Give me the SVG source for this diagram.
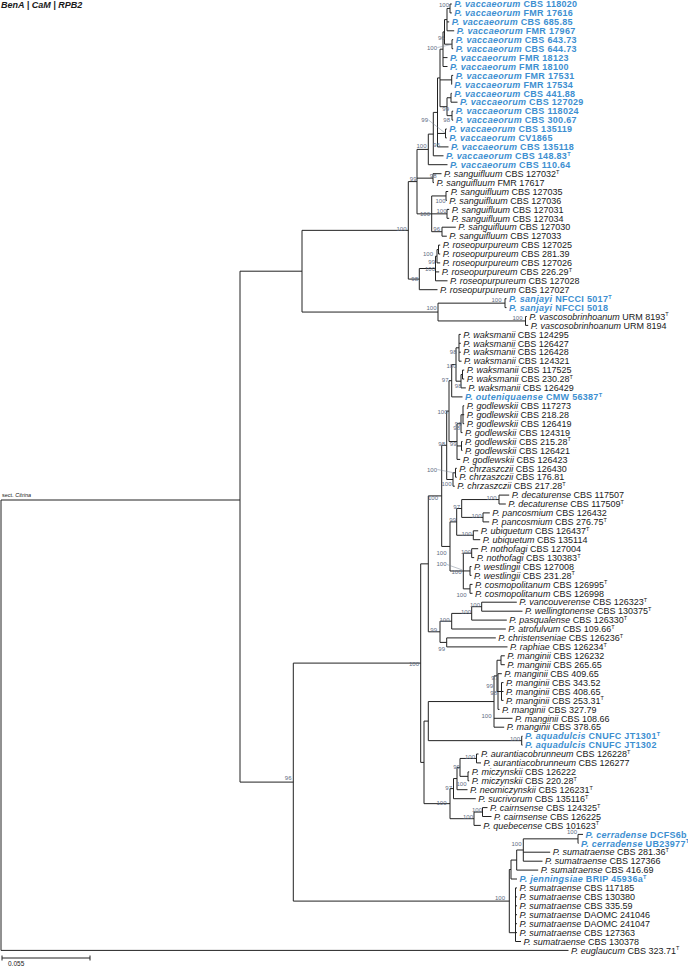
<svg xmlns="http://www.w3.org/2000/svg" width="688" height="967" viewBox="0 0 688 967">
<style>
.br{fill:none;stroke:#222;stroke-width:1}
.lf{font-family:"Liberation Sans",Arial,sans-serif;font-size:9px;fill:#1a1a1a}
.nw{font-weight:bold;fill:#3d8fd1;letter-spacing:0.3px}
.i{font-style:italic}
.s{font-size:5.5px;letter-spacing:0}
.bs{font-family:"Liberation Sans",Arial,sans-serif;font-size:6px;fill:#5d6b82;text-anchor:end}
.ld{stroke:#7a8494;stroke-width:0.5;fill:none}
</style>
<rect width="688" height="967" fill="#fff"/>
<text x="1" y="7.5" font-family="Liberation Sans,Arial,sans-serif" font-size="9" font-weight="bold" font-style="italic" fill="#1a1a1a">BenA | CaM | RPB2</text>
<g id="connectors" class="br">
<path d="M450 4V12.9M450 4H451.8M450 12.9H451.8"/>
<path d="M447 8.45V30.8M447 8.45H450M447 21.9H449.2M447 30.8H454.2"/>
<path d="M452 39.7V48.7M452 39.7H453.2M452 48.7H453.2"/>
<path d="M444.5 19.6V44.2M444.5 19.6H447M444.5 44.2H452"/>
<path d="M443 31.9V66.5M443 31.9H444.5M443 57.6H447.5M443 66.5H447.5"/>
<path d="M451.7 75.4V84.4M451.7 75.4H453.2M451.7 84.4H452"/>
<path d="M451 93.3V102.2M451 93.3H451.8M451 102.2H457.5"/>
<path d="M452 111.2V120.1M452 111.2H453.2M452 120.1H453.2"/>
<path d="M447 97.75V115.65M447 97.75H451M447 115.65H452"/>
<path d="M445.5 129V137.9M445.5 129H446.8M445.5 137.9H446.8"/>
<path d="M440 49.2V106.7M440 49.2H443M440 79.9H451.7M440 106.7H447"/>
<path d="M437.5 77.95V146.9M437.5 77.95H440M437.5 133.45H445.5M437.5 146.9H448.5"/>
<path d="M433.3 112.4V155.8M433.3 112.4H437.5M433.3 155.8H443.5"/>
<path d="M428.3 134.1V164.7M428.3 134.1H433.3M428.3 164.7H447.5"/>
<path d="M433 173.7V182.6M433 173.7H441.5M433 182.6H434"/>
<path d="M446 191.5V200.4M446 191.5H448.2M446 200.4H446.8"/>
<path d="M447 209.4V218.3M447 209.4H449.2M447 218.3H449.2"/>
<path d="M442 227.2V236.2M442 227.2H455.8M442 236.2H446.8"/>
<path d="M431.7 195.95V231.7M431.7 195.95H446M431.7 213.85H447M431.7 231.7H442"/>
<path d="M417 149.4V213.85M417 149.4H428.3M417 178.15H433M417 213.85H431.7"/>
<path d="M438.5 245.1V254M438.5 245.1H440.2M438.5 254H440.2"/>
<path d="M437 249.55V262.9M437 249.55H438.5M437 262.9H440.2"/>
<path d="M435.5 256.2V280.8M435.5 256.2H437M435.5 271.9H439.2M435.5 280.8H447.5"/>
<path d="M419.3 268.5V289.7M419.3 268.5H435.5M419.3 289.7H437.5"/>
<path d="M408.3 181.6V279.1M408.3 181.6H417M408.3 279.1H419.3"/>
<path d="M505 298.7V307.6M505 298.7H506.5M505 307.6H506.5"/>
<path d="M525.5 316.5V325.4M525.5 316.5H526.8M525.5 325.4H528.2"/>
<path d="M438 303.15V320.95M438 303.15H505M438 320.95H525.5"/>
<path d="M302 230.35V312.05M302 230.35H408.3M302 312.05H438"/>
<path d="M459 334.4V361.2M459 334.4H460.8M459 343.3H460.8M459 352.2H460.8M459 361.2H461.5"/>
<path d="M462.5 370.1V379M462.5 370.1H464.2M462.5 379H464.2"/>
<path d="M461 374.55V387.9M461 374.55H462.5M461 387.9H465.8"/>
<path d="M456 347.8V381.2M456 347.8H459M456 381.2H461"/>
<path d="M451.7 364.5V396.9M451.7 364.5H456M451.7 396.9H462.5"/>
<path d="M463 405.8V423.7M463 405.8H464.2M463 414.7H464.2M463 423.7H464.2"/>
<path d="M461 414.75V432.6M461 414.75H463M461 432.6H462.5"/>
<path d="M461.5 441.5V450.4M461.5 441.5H462.5M461.5 450.4H462.5"/>
<path d="M457 423.7V459.4M457 423.7H461M457 445.95H461.5M457 459.4H460.2"/>
<path d="M449 380.7V441.55M449 380.7H451.7M449 441.55H457"/>
<path d="M455.5 468.3V477.2M455.5 468.3H456.8M455.5 477.2H456.8"/>
<path d="M453 472.75V486.2M453 472.75H455.5M453 486.2H454.8"/>
<path d="M446.7 411.1V479.5M446.7 411.1H449M446.7 479.5H453"/>
<path d="M499 495.1V504M499 495.1H509.2M499 504H505.8"/>
<path d="M483 512.9V521.9M483 512.9H489.8M483 521.9H489.2"/>
<path d="M461.7 499.55V517.4M461.7 499.55H499M461.7 517.4H483"/>
<path d="M473.3 530.8V539.7M473.3 530.8H478.2M473.3 539.7H480.2"/>
<path d="M456.7 508.5V535.25M456.7 508.5H461.7M456.7 535.25H473.3"/>
<path d="M471.7 548.7V557.6M471.7 548.7H478.2M471.7 557.6H474.2"/>
<path d="M470 566.5V575.4M470 566.5H471.5M470 575.4H471.5"/>
<path d="M470 584.4V593.3M470 584.4H472.5M470 593.3H472.5"/>
<path d="M463.3 553.15V588.85M463.3 553.15H471.7M463.3 570.95H470M463.3 588.85H470"/>
<path d="M450 521.9V571M450 521.9H456.7M450 571H463.3"/>
<path d="M441.7 445.3V546.45M441.7 445.3H446.7M441.7 546.45H450"/>
<path d="M481.7 602.2V611.2M481.7 602.2H516.8M481.7 611.2H522.5"/>
<path d="M471.7 606.7V620.1M471.7 606.7H481.7M471.7 620.1H506.8"/>
<path d="M451.7 613.4V629M451.7 613.4H471.7M451.7 629H505.8"/>
<path d="M446.7 637.9V646.9M446.7 637.9H495.8M446.7 646.9H507.5"/>
<path d="M440 621.2V642.4M440 621.2H451.7M440 642.4H446.7"/>
<path d="M428.3 495.9V631.8M428.3 495.9H441.7M428.3 631.8H440"/>
<path d="M501 655.8V664.7M501 655.8H504.8M501 664.7H504.8"/>
<path d="M501.5 682.6V700.4M501.5 682.6H503.5M501.5 691.5H503.5M501.5 700.4H503.5"/>
<path d="M498 673.7V709.4M498 673.7H501.8M498 691.5H501.5M498 709.4H499.5"/>
<path d="M497 660.25V691.55M497 660.25H501M497 691.55H498"/>
<path d="M494 675.9V727.2M494 675.9H497M494 718.3H512.5M494 727.2H504.2"/>
<path d="M521.7 736.2V745.1M521.7 736.2H522.5M521.7 745.1H522.5"/>
<path d="M428.3 701.55V740.65M428.3 701.55H494M428.3 740.65H521.7"/>
<path d="M476.5 754V762.9M476.5 754H478.5M476.5 762.9H481"/>
<path d="M468 771.9V780.8M468 771.9H469.2M468 780.8H469.2"/>
<path d="M460 758.45V776.35M460 758.45H476.5M460 776.35H468"/>
<path d="M457 767.4V789.7M457 767.4H460M457 789.7H467.5"/>
<path d="M453.5 778.55V798.7M453.5 778.55H457M453.5 798.7H475.8"/>
<path d="M482.5 807.6V816.5M482.5 807.6H487.5M482.5 816.5H491.5"/>
<path d="M474 812.05V825.4M474 812.05H482.5M474 825.4H480.8"/>
<path d="M450 788.6V818.7M450 788.6H453.5M450 818.7H474"/>
<path d="M424 721.1V803.65M424 721.1H428.3M424 803.65H450"/>
<path d="M420.7 563.85V762.4M420.7 563.85H428.3M420.7 762.4H424"/>
<path d="M578 834.4V843.3M578 834.4H583M578 843.3H578.5"/>
<path d="M523.3 838.85V861.2M523.3 838.85H578M523.3 852.2H550.2M523.3 861.2H542.5"/>
<path d="M516.7 850V870.1M516.7 850H523.3M516.7 870.1H538.2"/>
<path d="M511 860.05V879M511 860.05H516.7M511 879H517"/>
<path d="M515.5 887.9V941.5M515.5 887.9H517M515.5 896.9H517M515.5 905.8H517M515.5 914.7H517M515.5 923.7H517M515.5 932.6H517M515.5 941.5H521"/>
<path d="M509.3 869.5V932.7M509.3 869.5H511M509.3 932.7H515.5"/>
<path d="M293.3 663.1V901.1M293.3 663.1H420.7M293.3 901.1H509.3"/>
<path d="M240 271.2V782.1M240 271.2H302M240 782.1H293.3"/>
<path d="M1 500V950.4M1 500H240M1 950.4H568.5"/>
</g>
<g id="support">
<text class="bs" x="449" y="7">100</text>
<text class="bs" x="444.7" y="40">96</text>
<text class="bs" x="437" y="49.5">100</text>
<path class="ld" d="M437.5 47.5L451.5 44.5"/>
<text class="bs" x="449" y="111">99</text>
<text class="bs" x="450" y="122">98</text>
<text class="bs" x="428" y="122">99</text>
<path class="ld" d="M428.5 120L445 133"/>
<text class="bs" x="440" y="147">96</text>
<text class="bs" x="426.5" y="147.5">100</text>
<text class="bs" x="436.5" y="177.5">98</text>
<text class="bs" x="416.5" y="181">99</text>
<text class="bs" x="445.5" y="202.5">100</text>
<text class="bs" x="446.5" y="213">100</text>
<text class="bs" x="430" y="216">100</text>
<text class="bs" x="440" y="231">96</text>
<text class="bs" x="406.5" y="231">100</text>
<text class="bs" x="433" y="255.5">100</text>
<text class="bs" x="435" y="264">99</text>
<text class="bs" x="435" y="271">100</text>
<text class="bs" x="418" y="280.5">98</text>
<text class="bs" x="501.5" y="302">100</text>
<text class="bs" x="522.5" y="320">100</text>
<text class="bs" x="436.5" y="309.5">100</text>
<text class="bs" x="456.5" y="353.5">98</text>
<text class="bs" x="456.5" y="367.5">100</text>
<text class="bs" x="448.5" y="381.5">97</text>
<text class="bs" x="461.5" y="387.5">98</text>
<text class="bs" x="447.5" y="414">100</text>
<text class="bs" x="461.5" y="425.5">99</text>
<text class="bs" x="460" y="430">98</text>
<text class="bs" x="456.5" y="446">99</text>
<text class="bs" x="445" y="446">98</text>
<text class="bs" x="437" y="471.5">100</text>
<path class="ld" d="M437.5 469.5L455 473"/>
<text class="bs" x="451.5" y="485.5">100</text>
<text class="bs" x="438" y="499.5">100</text>
<text class="bs" x="496.5" y="499.5">100</text>
<text class="bs" x="460" y="509">97</text>
<text class="bs" x="481.5" y="518">100</text>
<text class="bs" x="456" y="522">99</text>
<text class="bs" x="471.5" y="535.5">100</text>
<text class="bs" x="471" y="553.5">100</text>
<text class="bs" x="446.5" y="555">100</text>
<text class="bs" x="446.5" y="566">100</text>
<path class="ld" d="M447 564.5L462.5 570"/>
<text class="bs" x="461.5" y="574">100</text>
<text class="bs" x="466.5" y="597">100</text>
<text class="bs" x="480" y="607">100</text>
<text class="bs" x="471" y="613.5">100</text>
<text class="bs" x="449.5" y="622">100</text>
<text class="bs" x="437" y="632">99</text>
<text class="bs" x="445" y="651">99</text>
<text class="bs" x="419" y="666">100</text>
<text class="bs" x="498" y="680">97</text>
<text class="bs" x="493" y="688">99</text>
<text class="bs" x="497" y="695">98</text>
<text class="bs" x="491.5" y="718">100</text>
<text class="bs" x="520" y="741">100</text>
<text class="bs" x="475" y="759">100</text>
<text class="bs" x="460" y="769">99</text>
<text class="bs" x="466.5" y="785.5">100</text>
<text class="bs" x="452" y="789.5">97</text>
<text class="bs" x="446.5" y="805">100</text>
<text class="bs" x="482" y="812">100</text>
<text class="bs" x="473" y="819">100</text>
<text class="bs" x="577" y="833.8">100</text>
<text class="bs" x="521.5" y="846">100</text>
<text class="bs" x="505" y="899.5">100</text>
<text class="bs" x="291.5" y="780">96</text>
</g>
<text x="2" y="497" font-family="Liberation Sans,Arial,sans-serif" font-size="5.5" fill="#1a1a1a">sect. <tspan font-style="italic">Citrina</tspan></text>
<g id="scale">
<path class="br" d="M2 958H90M2 955.5V960.5M90 955.5V960.5"/>
<text x="8" y="966" font-family="Liberation Sans,Arial,sans-serif" font-size="6.5" fill="#1a1a1a">0.055</text>
</g>
<g id="L1"><text class="lf nw" x="454.3" y="7.2"><tspan class="i">P. vaccaeorum</tspan> CBS 118020</text></g>
<g id="L2"><text class="lf nw" x="454.3" y="16.1"><tspan class="i">P. vaccaeorum</tspan> FMR 17616</text></g>
<g id="L3"><text class="lf nw" x="451.7" y="25.1"><tspan class="i">P. vaccaeorum</tspan> CBS 685.85</text></g>
<g id="L4"><text class="lf nw" x="456.7" y="34"><tspan class="i">P. vaccaeorum</tspan> FMR 17967</text></g>
<g id="L5"><text class="lf nw" x="455.7" y="42.9"><tspan class="i">P. vaccaeorum</tspan> CBS 643.73</text></g>
<g id="L6"><text class="lf nw" x="455.7" y="51.9"><tspan class="i">P. vaccaeorum</tspan> CBS 644.73</text></g>
<g id="L7"><text class="lf nw" x="450" y="60.8"><tspan class="i">P. vaccaeorum</tspan> FMR 18123</text></g>
<g id="L8"><text class="lf nw" x="450" y="69.7"><tspan class="i">P. vaccaeorum</tspan> FMR 18100</text></g>
<g id="L9"><text class="lf nw" x="455.7" y="78.6"><tspan class="i">P. vaccaeorum</tspan> FMR 17531</text></g>
<g id="L10"><text class="lf nw" x="454.3" y="87.6"><tspan class="i">P. vaccaeorum</tspan> FMR 17534</text></g>
<g id="L11"><text class="lf nw" x="454.3" y="96.5"><tspan class="i">P. vaccaeorum</tspan> CBS 441.88</text></g>
<g id="L12"><text class="lf nw" x="460" y="105.4"><tspan class="i">P. vaccaeorum</tspan> CBS 127029</text></g>
<g id="L13"><text class="lf nw" x="455.7" y="114.4"><tspan class="i">P. vaccaeorum</tspan> CBS 118024</text></g>
<g id="L14"><text class="lf nw" x="455.7" y="123.3"><tspan class="i">P. vaccaeorum</tspan> CBS 300.67</text></g>
<g id="L15"><text class="lf nw" x="449.3" y="132.2"><tspan class="i">P. vaccaeorum</tspan> CBS 135119</text></g>
<g id="L16"><text class="lf nw" x="449.3" y="141.1"><tspan class="i">P. vaccaeorum</tspan> CV1865</text></g>
<g id="L17"><text class="lf nw" x="451" y="150.1"><tspan class="i">P. vaccaeorum</tspan> CBS 135118</text></g>
<g id="L18"><text class="lf nw" x="446" y="159"><tspan class="i">P. vaccaeorum</tspan> CBS 148.83<tspan class="s" dy="-3.3">T</tspan></text></g>
<g id="L19"><text class="lf nw" x="450" y="167.9"><tspan class="i">P. vaccaeorum</tspan> CBS 110.64</text></g>
<g id="L20"><text class="lf" x="444" y="176.9"><tspan class="i">P. sanguifluum</tspan> CBS 127032<tspan class="s" dy="-3.3">T</tspan></text></g>
<g id="L21"><text class="lf" x="436.5" y="185.8"><tspan class="i">P. sanguifluum</tspan> FMR 17617</text></g>
<g id="L22"><text class="lf" x="450.7" y="194.7"><tspan class="i">P. sanguifluum</tspan> CBS 127035</text></g>
<g id="L23"><text class="lf" x="449.3" y="203.6"><tspan class="i">P. sanguifluum</tspan> CBS 127036</text></g>
<g id="L24"><text class="lf" x="451.7" y="212.6"><tspan class="i">P. sanguifluum</tspan> CBS 127031</text></g>
<g id="L25"><text class="lf" x="451.7" y="221.5"><tspan class="i">P. sanguifluum</tspan> CBS 127034</text></g>
<g id="L26"><text class="lf" x="458.3" y="230.4"><tspan class="i">P. sanguifluum</tspan> CBS 127030</text></g>
<g id="L27"><text class="lf" x="449.3" y="239.4"><tspan class="i">P. sanguifluum</tspan> CBS 127033</text></g>
<g id="L28"><text class="lf" x="442.7" y="248.3"><tspan class="i">P. roseopurpureum</tspan> CBS 127025</text></g>
<g id="L29"><text class="lf" x="442.7" y="257.2"><tspan class="i">P. roseopurpureum</tspan> CBS 281.39</text></g>
<g id="L30"><text class="lf" x="442.7" y="266.1"><tspan class="i">P. roseopurpureum</tspan> CBS 127026</text></g>
<g id="L31"><text class="lf" x="441.7" y="275.1"><tspan class="i">P. roseopurpureum</tspan> CBS 226.29<tspan class="s" dy="-3.3">T</tspan></text></g>
<g id="L32"><text class="lf" x="450" y="284"><tspan class="i">P. roseopurpureum</tspan> CBS 127028</text></g>
<g id="L33"><text class="lf" x="440" y="292.9"><tspan class="i">P. roseopurpureum</tspan> CBS 127027</text></g>
<g id="L34"><text class="lf nw" x="509" y="301.9"><tspan class="i">P. sanjayi</tspan> NFCCI 5017<tspan class="s" dy="-3.3">T</tspan></text></g>
<g id="L35"><text class="lf nw" x="509" y="310.8"><tspan class="i">P. sanjayi</tspan> NFCCI 5018</text></g>
<g id="L36"><text class="lf" x="529.3" y="319.7"><tspan class="i">P. vascosobrinhoanum</tspan> URM 8193<tspan class="s" dy="-3.3">T</tspan></text></g>
<g id="L37"><text class="lf" x="530.7" y="328.6"><tspan class="i">P. vascosobrinhoanum</tspan> URM 8194</text></g>
<g id="L38"><text class="lf" x="463.3" y="337.6"><tspan class="i">P. waksmanii</tspan> CBS 124295</text></g>
<g id="L39"><text class="lf" x="463.3" y="346.5"><tspan class="i">P. waksmanii</tspan> CBS 126427</text></g>
<g id="L40"><text class="lf" x="463.3" y="355.4"><tspan class="i">P. waksmanii</tspan> CBS 126428</text></g>
<g id="L41"><text class="lf" x="464" y="364.4"><tspan class="i">P. waksmanii</tspan> CBS 124321</text></g>
<g id="L42"><text class="lf" x="466.7" y="373.3"><tspan class="i">P. waksmanii</tspan> CBS 117525</text></g>
<g id="L43"><text class="lf" x="466.7" y="382.2"><tspan class="i">P. waksmanii</tspan> CBS 230.28<tspan class="s" dy="-3.3">T</tspan></text></g>
<g id="L44"><text class="lf" x="468.3" y="391.1"><tspan class="i">P. waksmanii</tspan> CBS 126429</text></g>
<g id="L45"><text class="lf nw" x="465" y="400.1"><tspan class="i">P. outeniquaense</tspan> CMW 56387<tspan class="s" dy="-3.3">T</tspan></text></g>
<g id="L46"><text class="lf" x="466.7" y="409"><tspan class="i">P. godlewskii</tspan> CBS 117273</text></g>
<g id="L47"><text class="lf" x="466.7" y="417.9"><tspan class="i">P. godlewskii</tspan> CBS 218.28</text></g>
<g id="L48"><text class="lf" x="466.7" y="426.9"><tspan class="i">P. godlewskii</tspan> CBS 126419</text></g>
<g id="L49"><text class="lf" x="465" y="435.8"><tspan class="i">P. godlewskii</tspan> CBS 124319</text></g>
<g id="L50"><text class="lf" x="465" y="444.7"><tspan class="i">P. godlewskii</tspan> CBS 215.28<tspan class="s" dy="-3.3">T</tspan></text></g>
<g id="L51"><text class="lf" x="465" y="453.6"><tspan class="i">P. godlewskii</tspan> CBS 126421</text></g>
<g id="L52"><text class="lf" x="462.7" y="462.6"><tspan class="i">P. godlewskii</tspan> CBS 126423</text></g>
<g id="L53"><text class="lf" x="459.3" y="471.5"><tspan class="i">P. chrzaszczii</tspan> CBS 126430</text></g>
<g id="L54"><text class="lf" x="459.3" y="480.4"><tspan class="i">P. chrzaszczii</tspan> CBS 176.81</text></g>
<g id="L55"><text class="lf" x="457.3" y="489.4"><tspan class="i">P. chrzaszczii</tspan> CBS 217.28<tspan class="s" dy="-3.3">T</tspan></text></g>
<g id="L56"><text class="lf" x="511.7" y="498.3"><tspan class="i">P. decaturense</tspan> CBS 117507</text></g>
<g id="L57"><text class="lf" x="508.3" y="507.2"><tspan class="i">P. decaturense</tspan> CBS 117509<tspan class="s" dy="-3.3">T</tspan></text></g>
<g id="L58"><text class="lf" x="492.3" y="516.1"><tspan class="i">P. pancosmium</tspan> CBS 126432</text></g>
<g id="L59"><text class="lf" x="491.7" y="525.1"><tspan class="i">P. pancosmium</tspan> CBS 276.75<tspan class="s" dy="-3.3">T</tspan></text></g>
<g id="L60"><text class="lf" x="480.7" y="534"><tspan class="i">P. ubiquetum</tspan> CBS 126437<tspan class="s" dy="-3.3">T</tspan></text></g>
<g id="L61"><text class="lf" x="482.7" y="542.9"><tspan class="i">P. ubiquetum</tspan> CBS 135114</text></g>
<g id="L62"><text class="lf" x="480.7" y="551.9"><tspan class="i">P. nothofagi</tspan> CBS 127004</text></g>
<g id="L63"><text class="lf" x="476.7" y="560.8"><tspan class="i">P. nothofagi</tspan> CBS 130383<tspan class="s" dy="-3.3">T</tspan></text></g>
<g id="L64"><text class="lf" x="474" y="569.7"><tspan class="i">P. westlingii</tspan> CBS 127008</text></g>
<g id="L65"><text class="lf" x="474" y="578.6"><tspan class="i">P. westlingii</tspan> CBS 231.28<tspan class="s" dy="-3.3">T</tspan></text></g>
<g id="L66"><text class="lf" x="475" y="587.6"><tspan class="i">P. cosmopolitanum</tspan> CBS 126995<tspan class="s" dy="-3.3">T</tspan></text></g>
<g id="L67"><text class="lf" x="475" y="596.5"><tspan class="i">P. cosmopolitanum</tspan> CBS 126998</text></g>
<g id="L68"><text class="lf" x="519.3" y="605.4"><tspan class="i">P. vancouverense</tspan> CBS 126323<tspan class="s" dy="-3.3">T</tspan></text></g>
<g id="L69"><text class="lf" x="525" y="614.4"><tspan class="i">P. wellingtonense</tspan> CBS 130375<tspan class="s" dy="-3.3">T</tspan></text></g>
<g id="L70"><text class="lf" x="509.3" y="623.3"><tspan class="i">P. pasqualense</tspan> CBS 126330<tspan class="s" dy="-3.3">T</tspan></text></g>
<g id="L71"><text class="lf" x="508.3" y="632.2"><tspan class="i">P. atrofulvum</tspan> CBS 109.66<tspan class="s" dy="-3.3">T</tspan></text></g>
<g id="L72"><text class="lf" x="498.3" y="641.1"><tspan class="i">P. christenseniae</tspan> CBS 126236<tspan class="s" dy="-3.3">T</tspan></text></g>
<g id="L73"><text class="lf" x="510" y="650.1"><tspan class="i">P. raphiae</tspan> CBS 126234<tspan class="s" dy="-3.3">T</tspan></text></g>
<g id="L74"><text class="lf" x="507.3" y="659"><tspan class="i">P. manginii</tspan> CBS 126232</text></g>
<g id="L75"><text class="lf" x="507.3" y="667.9"><tspan class="i">P. manginii</tspan> CBS 265.65</text></g>
<g id="L76"><text class="lf" x="504.3" y="676.9"><tspan class="i">P. manginii</tspan> CBS 409.65</text></g>
<g id="L77"><text class="lf" x="506" y="685.8"><tspan class="i">P. manginii</tspan> CBS 343.52</text></g>
<g id="L78"><text class="lf" x="506" y="694.7"><tspan class="i">P. manginii</tspan> CBS 408.65</text></g>
<g id="L79"><text class="lf" x="506" y="703.6"><tspan class="i">P. manginii</tspan> CBS 253.31<tspan class="s" dy="-3.3">T</tspan></text></g>
<g id="L80"><text class="lf" x="502" y="712.6"><tspan class="i">P. manginii</tspan> CBS 327.79</text></g>
<g id="L81"><text class="lf" x="515" y="721.5"><tspan class="i">P. manginii</tspan> CBS 108.66</text></g>
<g id="L82"><text class="lf" x="506.7" y="730.4"><tspan class="i">P. manginii</tspan> CBS 378.65</text></g>
<g id="L83"><text class="lf nw" x="525" y="739.4"><tspan class="i">P. aquadulcis</tspan> CNUFC JT1301<tspan class="s" dy="-3.3">T</tspan></text></g>
<g id="L84"><text class="lf nw" x="525" y="748.3"><tspan class="i">P. aquadulcis</tspan> CNUFC JT1302</text></g>
<g id="L85"><text class="lf" x="481" y="757.2"><tspan class="i">P. aurantiacobrunneum</tspan> CBS 126228<tspan class="s" dy="-3.3">T</tspan></text></g>
<g id="L86"><text class="lf" x="483.5" y="766.1"><tspan class="i">P. aurantiacobrunneum</tspan> CBS 126277</text></g>
<g id="L87"><text class="lf" x="471.7" y="775.1"><tspan class="i">P. miczynskii</tspan> CBS 126222</text></g>
<g id="L88"><text class="lf" x="471.7" y="784"><tspan class="i">P. miczynskii</tspan> CBS 220.28<tspan class="s" dy="-3.3">T</tspan></text></g>
<g id="L89"><text class="lf" x="470" y="792.9"><tspan class="i">P. neomiczynskii</tspan> CBS 126231<tspan class="s" dy="-3.3">T</tspan></text></g>
<g id="L90"><text class="lf" x="478.3" y="801.9"><tspan class="i">P. sucrivorum</tspan> CBS 135116<tspan class="s" dy="-3.3">T</tspan></text></g>
<g id="L91"><text class="lf" x="490" y="810.8"><tspan class="i">P. cairnsense</tspan> CBS 124325<tspan class="s" dy="-3.3">T</tspan></text></g>
<g id="L92"><text class="lf" x="494" y="819.7"><tspan class="i">P. cairnsense</tspan> CBS 126225</text></g>
<g id="L93"><text class="lf" x="483.3" y="828.6"><tspan class="i">P. quebecense</tspan> CBS 101623<tspan class="s" dy="-3.3">T</tspan></text></g>
<g id="L94"><text class="lf nw" x="585.5" y="837.6"><tspan class="i">P. cerradense</tspan> DCFS6b</text></g>
<g id="L95"><text class="lf nw" x="581" y="846.5"><tspan class="i">P. cerradense</tspan> UB23977<tspan class="s" dy="-3.3">T</tspan></text></g>
<g id="L96"><text class="lf" x="552.7" y="855.4"><tspan class="i">P. sumatraense</tspan> CBS 281.36<tspan class="s" dy="-3.3">T</tspan></text></g>
<g id="L97"><text class="lf" x="545" y="864.4"><tspan class="i">P. sumatraense</tspan> CBS 127366</text></g>
<g id="L98"><text class="lf" x="540.7" y="873.3"><tspan class="i">P. sumatraense</tspan> CBS 416.69</text></g>
<g id="L99"><text class="lf nw" x="519.5" y="882.2"><tspan class="i">P. jenningsiae</tspan> BRIP 45936a<tspan class="s" dy="-3.3">T</tspan></text></g>
<g id="L100"><text class="lf" x="519.5" y="891.1"><tspan class="i">P. sumatraense</tspan> CBS 117185</text></g>
<g id="L101"><text class="lf" x="519.5" y="900.1"><tspan class="i">P. sumatraense</tspan> CBS 130380</text></g>
<g id="L102"><text class="lf" x="519.5" y="909"><tspan class="i">P. sumatraense</tspan> CBS 335.59</text></g>
<g id="L103"><text class="lf" x="519.5" y="917.9"><tspan class="i">P. sumatraense</tspan> DAOMC 241046</text></g>
<g id="L104"><text class="lf" x="519.5" y="926.9"><tspan class="i">P. sumatraense</tspan> DAOMC 241047</text></g>
<g id="L105"><text class="lf" x="519.5" y="935.8"><tspan class="i">P. sumatraense</tspan> CBS 127363</text></g>
<g id="L106"><text class="lf" x="523.5" y="944.7"><tspan class="i">P. sumatraense</tspan> CBS 130378</text></g>
<g id="L107"><text class="lf" x="571" y="953.6"><tspan class="i">P. euglaucum</tspan> CBS 323.71<tspan class="s" dy="-3.3">T</tspan></text></g>
</svg>
